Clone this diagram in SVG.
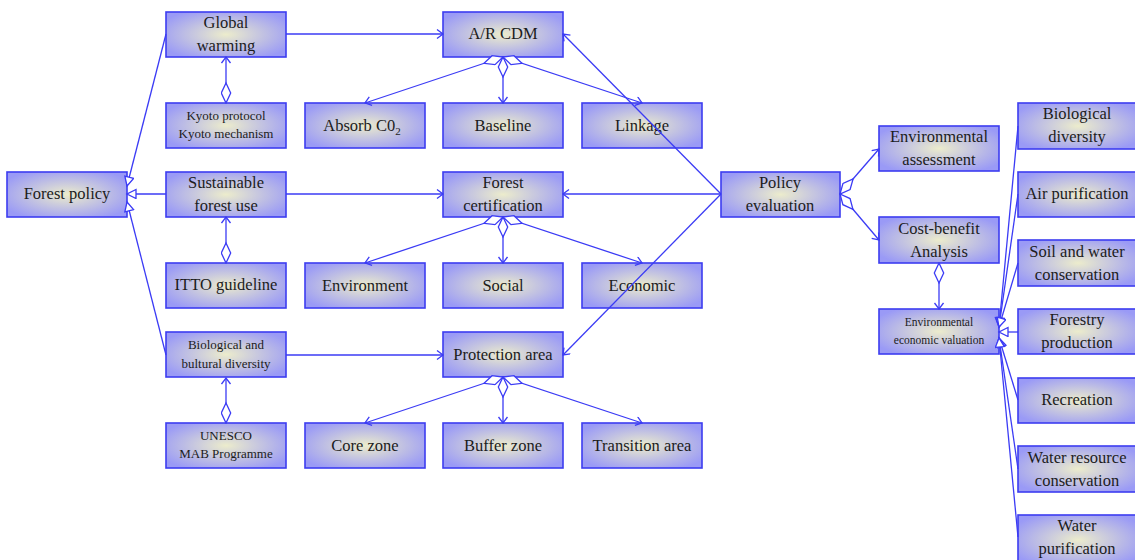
<svg xmlns="http://www.w3.org/2000/svg" width="1135" height="560" viewBox="0 0 1135 560">
<defs>
<radialGradient id="g" cx="50%" cy="50%" r="60%">
<stop offset="0" stop-color="#ececcc"/>
<stop offset="1" stop-color="#9a9af6"/>
</radialGradient>
<marker id="arr" markerUnits="userSpaceOnUse" markerWidth="10" markerHeight="12" refX="7" refY="5" orient="auto">
<path d="M1,0.5 L7,5 L1,9.5" fill="none" stroke="#3b3bf5" stroke-width="1.3"/>
</marker>
<marker id="tri" markerUnits="userSpaceOnUse" markerWidth="12" markerHeight="12" refX="10" refY="5" orient="auto">
<path d="M1,0.5 L10,5 L1,9.5 Z" fill="#fff" stroke="#3b3bf5" stroke-width="1.3"/>
</marker>
<marker id="dia" markerUnits="userSpaceOnUse" markerWidth="24" markerHeight="12" refX="1" refY="5.5" orient="auto">
<path d="M1,5.5 L11,0.8 L21,5.5 L11,10.2 Z" fill="#fff" stroke="#3b3bf5" stroke-width="1.3"/>
</marker>
</defs>
<style>
.b{fill:url(#g);stroke:#3c3cf0;stroke-width:1.6}
.t{font-family:"Liberation Serif","Times New Roman",serif;font-size:16.5px;fill:#1c1c1c;text-anchor:middle}
.s{font-size:13px}
.xs{font-size:11.5px}
.c{fill:none;stroke:#3b3bf5;stroke-width:1.3}
.a{marker-end:url(#arr)}
.h{marker-end:url(#tri)}
.d{marker-start:url(#dia)}
</style>
<rect width="1135" height="560" fill="#fff"/>
<g id="forest-policy"><rect class="b" x="7" y="172" width="120" height="45"/><text class="t" x="67" y="199">Forest policy</text></g>
<g id="global-warming"><rect class="b" x="166" y="12" width="120" height="45"/><text class="t" x="226" y="28">Global</text><text class="t" x="226" y="51">warming</text></g>
<g id="kyoto"><rect class="b" x="166" y="103" width="120" height="45"/><text class="t s" x="226" y="120">Kyoto protocol</text><text class="t s" x="226" y="138">Kyoto mechanism</text></g>
<g id="sustainable"><rect class="b" x="166" y="172" width="120" height="45"/><text class="t" x="226" y="188">Sustainable</text><text class="t" x="226" y="211">forest use</text></g>
<g id="itto"><rect class="b" x="166" y="263" width="120" height="45"/><text class="t" x="226" y="290">ITTO guideline</text></g>
<g id="biocult"><rect class="b" x="166" y="332" width="120" height="45"/><text class="t s" x="226" y="349">Biological and</text><text class="t s" x="226" y="368">bultural diversity</text></g>
<g id="unesco"><rect class="b" x="166" y="423" width="120" height="45"/><text class="t s" x="226" y="440">UNESCO</text><text class="t s" x="226" y="458">MAB Programme</text></g>
<g id="arcdm"><rect class="b" x="443" y="12" width="120" height="45"/><text class="t" x="503" y="39">A/R CDM</text></g>
<g id="absorb"><rect class="b" x="305" y="103" width="120" height="45"/><text class="t" x="362" y="131">Absorb C0<tspan font-size="11" dy="4">2</tspan></text></g>
<g id="baseline"><rect class="b" x="443" y="103" width="120" height="45"/><text class="t" x="503" y="131">Baseline</text></g>
<g id="linkage"><rect class="b" x="582" y="103" width="120" height="45"/><text class="t" x="642" y="131">Linkage</text></g>
<g id="forest-cert"><rect class="b" x="443" y="172" width="120" height="45"/><text class="t" x="503" y="188">Forest</text><text class="t" x="503" y="211">certification</text></g>
<g id="environment"><rect class="b" x="305" y="263" width="120" height="45"/><text class="t" x="365" y="291">Environment</text></g>
<g id="social"><rect class="b" x="443" y="263" width="120" height="45"/><text class="t" x="503" y="291">Social</text></g>
<g id="economic"><rect class="b" x="582" y="263" width="120" height="45"/><text class="t" x="642" y="291">Economic</text></g>
<g id="protection"><rect class="b" x="443" y="332" width="120" height="45"/><text class="t" x="503" y="360">Protection area</text></g>
<g id="core"><rect class="b" x="305" y="423" width="120" height="45"/><text class="t" x="365" y="451">Core zone</text></g>
<g id="buffer"><rect class="b" x="443" y="423" width="120" height="45"/><text class="t" x="503" y="451">Buffer zone</text></g>
<g id="transition"><rect class="b" x="582" y="423" width="120" height="45"/><text class="t" x="642" y="451">Transition area</text></g>
<g id="policy-eval"><rect class="b" x="721" y="172" width="119" height="45"/><text class="t" x="780" y="188">Policy</text><text class="t" x="780" y="211">evaluation</text></g>
<g id="env-assess"><rect class="b" x="879" y="126" width="120" height="45"/><text class="t" x="939" y="142">Environmental</text><text class="t" x="939" y="165">assessment</text></g>
<g id="cost-benefit"><rect class="b" x="879" y="217" width="120" height="46"/><text class="t" x="939" y="234">Cost-benefit</text><text class="t" x="939" y="257">Analysis</text></g>
<g id="env-econ"><rect class="b" x="879" y="309" width="120" height="45"/><text class="t xs" x="939" y="326">Environmental</text><text class="t xs" x="939" y="344">economic valuation</text></g>
<g id="bio-div"><rect class="b" x="1018" y="103" width="120" height="46"/><text class="t" x="1077" y="119">Biological</text><text class="t" x="1077" y="142">diversity</text></g>
<g id="air"><rect class="b" x="1018" y="172" width="120" height="45"/><text class="t" x="1077" y="199">Air purification</text></g>
<g id="soil"><rect class="b" x="1018" y="240" width="120" height="46"/><text class="t" x="1077" y="257">Soil and water</text><text class="t" x="1077" y="280">conservation</text></g>
<g id="forestry"><rect class="b" x="1018" y="309" width="120" height="45"/><text class="t" x="1077" y="325">Forestry</text><text class="t" x="1077" y="348">production</text></g>
<g id="recreation"><rect class="b" x="1018" y="378" width="120" height="45"/><text class="t" x="1077" y="405">Recreation</text></g>
<g id="water-res"><rect class="b" x="1018" y="446" width="120" height="46"/><text class="t" x="1077" y="463">Water resource</text><text class="t" x="1077" y="486">conservation</text></g>
<g id="water-pur"><rect class="b" x="1018" y="515" width="120" height="50"/><text class="t" x="1077" y="531">Water</text><text class="t" x="1077" y="554">purification</text></g>
<g id="connectors">
<path class="c a" d="M286,34 L443,34"/>
<path class="c a" d="M286,194 L443,194"/>
<path class="c a" d="M286,355 L443,355"/>
<path class="c a d" d="M226,103 L226,57"/>
<path class="c a d" d="M226,263 L226,217"/>
<path class="c a d" d="M226,423 L226,378"/>
<path class="c h" d="M166,34 L127,186"/>
<path class="c h" d="M166,194 L127,194"/>
<path class="c h" d="M166,355 L127,202"/>
<path class="c a d" d="M503,57 L365,103"/>
<path class="c a d" d="M503,57 L503,103"/>
<path class="c a d" d="M503,57 L642,103"/>
<path class="c a d" d="M503,217 L365,263"/>
<path class="c a d" d="M503,217 L503,263"/>
<path class="c a d" d="M503,217 L642,263"/>
<path class="c a d" d="M503,377 L365,423"/>
<path class="c a d" d="M503,377 L503,423"/>
<path class="c a d" d="M503,377 L642,423"/>
<path class="c a" d="M721,194 L563,34"/>
<path class="c a" d="M721,194 L563,194"/>
<path class="c a" d="M721,194 L563,355"/>
<path class="c a d" d="M840,194 L879,149"/>
<path class="c a d" d="M840,194 L879,240"/>
<path class="c a d" d="M939,263 L939,309"/>
<path class="c h" d="M1018,126 L999,327"/>
<path class="c h" d="M1018,194 L999,327"/>
<path class="c h" d="M1018,263 L999,327"/>
<path class="c h" d="M1018,332 L999,332"/>
<path class="c h" d="M1018,400 L999,338"/>
<path class="c h" d="M1018,469 L999,338"/>
<path class="c h" d="M1018,537 L999,338"/>
</g>
</svg>
